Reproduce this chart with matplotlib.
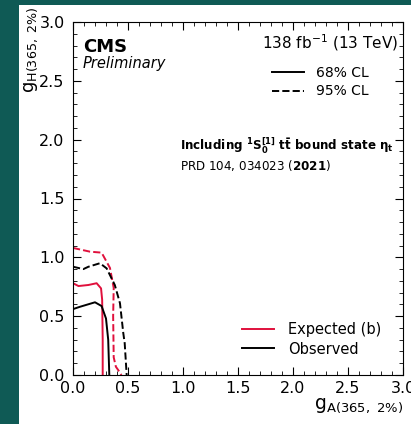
import matplotlib
matplotlib.use("Agg")
import matplotlib.pyplot as plt
from matplotlib.lines import Line2D
from matplotlib.patches import Rectangle
from matplotlib.ticker import MultipleLocator

# Contour data (g_A, g_H)
exp68_x = [0.0, 0.05, 0.14, 0.215, 0.255, 0.265, 0.27, 0.27]
exp68_y = [0.78, 0.756, 0.765, 0.78, 0.736, 0.64, 0.30, 0.0]
obs68_x = [0.0, 0.064, 0.2, 0.26, 0.30, 0.32, 0.33]
obs68_y = [0.56, 0.58, 0.618, 0.586, 0.48, 0.30, 0.0]
exp95_x = [0.0, 0.155, 0.26, 0.336, 0.37, 0.365, 0.37, 0.39, 0.42, 0.44]
exp95_y = [1.08, 1.048, 1.04, 0.91, 0.74, 0.50, 0.15, 0.07, 0.03, 0.0]
obs95_x = [0.0, 0.094, 0.14, 0.245, 0.306, 0.38, 0.427, 0.457, 0.47, 0.488]
obs95_y = [0.92, 0.90, 0.92, 0.95, 0.906, 0.765, 0.61, 0.357, 0.27, 0.0]

RED = "#e0103c"
TEAL = "#0f5a55"

fig = plt.figure(figsize=(4.11, 4.24), dpi=100)
fig.patch.set_facecolor("white")
# teal frame (left strip and top strip) drawn over everything
fig.add_artist(Rectangle((0, 0), 19 / 411, 1, transform=fig.transFigure,
                         facecolor=TEAL, edgecolor="none", zorder=100))
fig.add_artist(Rectangle((0, 1 - 5 / 424), 1, 5 / 424, transform=fig.transFigure,
                         facecolor=TEAL, edgecolor="none", zorder=100))

ax = fig.add_axes([73 / 411, 49 / 424, 330 / 411, 353 / 424])
ax.set_facecolor("white")

lw = 1.4
ax.plot(exp95_x, exp95_y, color=RED, lw=lw, ls="--")
ax.plot(obs95_x, obs95_y, color="black", lw=lw, ls="--")
ax.plot(exp68_x, exp68_y, color=RED, lw=lw, ls="-")
ax.plot(obs68_x, obs68_y, color="black", lw=lw, ls="-")

ax.set_xlim(0, 3.0)
ax.set_ylim(0, 3.0)
ax.xaxis.set_major_locator(MultipleLocator(0.5))
ax.yaxis.set_major_locator(MultipleLocator(0.5))
ax.xaxis.set_minor_locator(MultipleLocator(0.1))
ax.yaxis.set_minor_locator(MultipleLocator(0.1))
ax.tick_params(which="both", direction="in", top=True, right=True, labelsize=11.5)
ax.tick_params(axis="y", which="major", pad=6)
ax.tick_params(axis="x", which="major", pad=4)
ax.tick_params(which="major", length=6, width=0.8)
ax.tick_params(which="minor", length=3, width=0.6)
for s in ax.spines.values():
    s.set_linewidth(0.8)

ax.set_xlabel(r"$\mathrm{g}_{\mathrm{A(365,\ 2\%)}}$", fontsize=13.5, loc="right", labelpad=0)
ax.set_ylabel(r"$\mathrm{g}_{\mathrm{H(365,\ 2\%)}}$", fontsize=13, loc="top", labelpad=0)
ax.yaxis.set_label_coords(-0.1, 1.045)

ax.text(0.03, 0.955, "CMS", transform=ax.transAxes, fontsize=13, fontweight="bold",
        va="top", ha="left")
ax.text(0.03, 0.903, "Preliminary", transform=ax.transAxes, fontsize=10.5,
        style="italic", va="top", ha="left")
ax.text(0.985, 0.97, r"138 fb$^{-1}$ (13 TeV)", transform=ax.transAxes,
        fontsize=11, va="top", ha="right")

h1 = [Line2D([], [], color="black", lw=lw, ls="-"),
      Line2D([], [], color="black", lw=lw, ls="--")]
leg1 = ax.legend(h1, ["68% CL", "95% CL"], loc="upper right",
                 bbox_to_anchor=(0.935, 0.91), frameon=False, fontsize=10,
                 handlelength=2.3, handletextpad=0.9, labelspacing=0.3)
ax.add_artist(leg1)

h2 = [Line2D([], [], color=RED, lw=lw), Line2D([], [], color="black", lw=lw)]
ax.legend(h2, ["Expected (b)", "Observed"], loc="lower right",
          bbox_to_anchor=(0.975, 0.015), frameon=False, fontsize=10.5,
          handlelength=2.2, handletextpad=1.0, labelspacing=0.3)

ax.text(0.325, 0.648,
        r"Including $\mathbf{{}^{1}S_{0}^{[1]}}$ $\mathbf{t\bar{t}}$ bound state $\mathbf{\eta_{t}}$",
        transform=ax.transAxes, fontsize=8.6, fontweight="bold", va="center", ha="left")
ax.text(0.325, 0.593, r"PRD 104, 034023 ($\mathbf{2021}$)",
        transform=ax.transAxes, fontsize=8.6, va="center", ha="left")

fig.savefig("out.png", dpi=100)
